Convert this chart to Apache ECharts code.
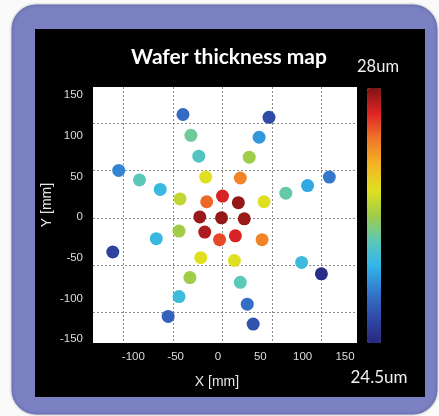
<!DOCTYPE html>
<html><head><meta charset="utf-8">
<script src="https://cdn.jsdelivr.net/npm/echarts@6/dist/echarts.min.js"></script>
<style>html,body{margin:0;padding:0;background:#fafafa}#c{width:439px;height:416px}</style>
</head><body><div id="c"></div>
<script>
// measurement positions [mm]
const xMM = [-40, 47, -32, 37, -24, 27, -105, -84, -63, -17, 18, 108, 86, 64, -43, -16, 0, 16, 42, -23, -1, 22, -44, -18, 13, -3, 40, -67, -111, -22, 12, 80, 100, -33, 18, -44, 25, -55, 31];
const yMM = [109, 106, 87, 85, 65, 64, 50, 40, 30, 43, 42, 43, 34, 26, 20, 17, 23, 16, 17, 1, 0, -1, -14, -15, -19, -23, -23, -22, -36, -42, -45, -47, -59, -63, -68, -83, -91, -104, -112];
// thickness [um]
const thickness = [25.1, 24.85, 26.0, 25.38, 25.83, 26.25, 25.27, 25.9, 25.62, 26.6, 27.23, 25.2, 25.48, 25.94, 26.43, 27.37, 27.68, 27.93, 26.6, 27.9, 27.92, 27.9, 26.25, 27.83, 27.68, 27.5, 27.23, 25.62, 24.78, 26.6, 26.6, 25.65, 24.57, 26.25, 25.9, 25.65, 25.13, 25.03, 24.92];
const tickLabelRange = [-150, 150];
const tickStep = 50;
const colorRange = [24.5, 28];
const colorStops = ['#28287e', '#2f4aa8', '#3478cc', '#30b4ea', '#5cc8b8', '#a0cc48', '#e0e020', '#f4b424', '#f07828', '#e02426', '#7e1414'];

const data = xMM.map((x, i) => [x, yMM[i], thickness[i]]);
const chart = echarts.init(document.getElementById('c'));
const labelStyle = {color: '#dcdcdc', fontSize: 11.5, fontFamily: 'Liberation Sans, Arial, sans-serif'};

chart.setOption({
  animation: false,
  title: {
    text: 'Wafer thickness map', left: 229, top: 47, textAlign: 'center', padding: 0,
    textStyle: {color: '#ffffff', fontSize: 21, fontWeight: 'bold', fontFamily: 'Lato, Open Sans, sans-serif'}
  },
  graphic: [
    {type: 'rect', z: -20, shape: {x: 12, y: 5, width: 425, height: 409, r: 24},
     style: {fill: '#7a80c2', stroke: '#6a70b4', lineWidth: 1, shadowBlur: 3, shadowColor: 'rgba(0,0,0,0.25)'}},
    {type: 'rect', z: -19, shape: {x: 35, y: 29, width: 390, height: 368}, style: {fill: '#000000'}},
    {type: 'text', z: 10, x: 378, y: 67, style: {text: '28um', fill: '#f0f0f0', font: '16.5px Lato, Open Sans, sans-serif', align: 'center', verticalAlign: 'middle'}},
    {type: 'text', z: 10, x: 379, y: 378, style: {text: '24.5um', fill: '#f0f0f0', font: '17px Lato, Open Sans, sans-serif', align: 'center', verticalAlign: 'middle'}},
    {type: 'text', z: 10, x: 217, y: 382, style: {text: 'X [mm]', fill: '#e8e8e8', font: '14px Liberation Sans, Arial, sans-serif', align: 'center', verticalAlign: 'middle'}},
    {type: 'text', z: 10, x: 47, y: 205, rotation: Math.PI / 2, style: {text: 'Y [mm]', fill: '#e8e8e8', font: '14px Liberation Sans, Arial, sans-serif', align: 'center', verticalAlign: 'middle'}}
  ],
  grid: [
    {left: 93, top: 87, width: 264, height: 256, show: true, backgroundColor: '#ffffff', borderWidth: 0},
    {left: 91, top: 95, width: 254, height: 244, show: false}
  ],
  xAxis: [
    {type: 'value', gridIndex: 0, min: -131, max: 136,
     axisLine: {show: false}, axisTick: {show: false}, axisLabel: {show: false},
     splitLine: {show: true, showMinLine: false, showMaxLine: false, lineStyle: {color: '#8a8a8a', type: [2, 2], width: 1}}},
    {type: 'value', gridIndex: 1, min: tickLabelRange[0], max: tickLabelRange[1], interval: tickStep,
     axisLine: {show: false}, axisTick: {show: false}, splitLine: {show: false},
     axisLabel: Object.assign({margin: 12, showMinLabel: false}, labelStyle)}
  ],
  yAxis: [
    {type: 'value', gridIndex: 0, min: -132, max: 138,
     axisLine: {show: false}, axisTick: {show: false}, axisLabel: {show: false},
     splitLine: {show: true, showMinLine: false, showMaxLine: false, lineStyle: {color: '#8a8a8a', type: [2, 2], width: 1}}},
    {type: 'value', gridIndex: 1, min: tickLabelRange[0], max: tickLabelRange[1], interval: tickStep,
     axisLine: {show: false}, axisTick: {show: false}, splitLine: {show: false},
     axisLabel: Object.assign({margin: 8}, labelStyle)}
  ],
  visualMap: {
    type: 'continuous', min: colorRange[0], max: colorRange[1], dimension: 2, seriesIndex: 0,
    orient: 'vertical', left: 367, top: 88, itemWidth: 14, itemHeight: 255, padding: 0,
    calculable: false, text: null, showLabel: false,
    inRange: {color: colorStops}
  },
  series: [{
    type: 'scatter', xAxisIndex: 0, yAxisIndex: 0, symbolSize: 13, data: data,
    itemStyle: {opacity: 1}
  }]
});
</script></body></html>
